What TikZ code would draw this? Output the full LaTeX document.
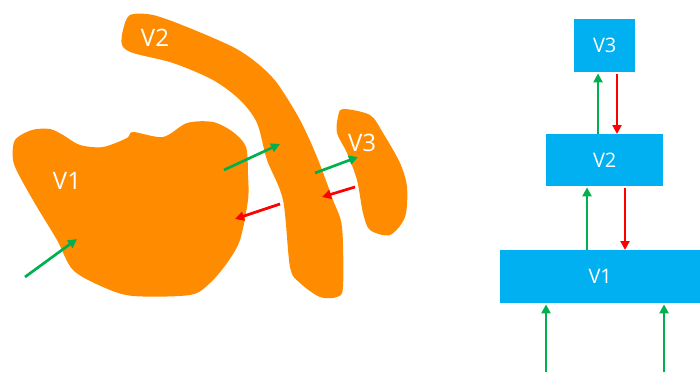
\documentclass[tikz,border=0pt]{standalone}
\usepackage{fontspec}
\setmainfont{Open Sans}
\usetikzlibrary{arrows.meta}
\definecolor{blob}{HTML}{FF8C00}
\definecolor{boxblue}{HTML}{00B0F0}
\definecolor{grn}{HTML}{00B050}
\definecolor{rd}{HTML}{FF0000}
\begin{document}
\begin{tikzpicture}[x=1pt,y=-1pt,
  region/.style={fill=blob,draw=none},
  blabel/.style={text=white,font=\fontsize{24}{24}\selectfont,inner sep=0pt},
  layer/.style={fill=boxblue,draw=none,text=white,font=\fontsize{20}{20}\selectfont,inner sep=0pt,anchor=north west},
  up/.style={draw=grn,line width=2.7pt,-{Triangle[length=9pt,width=9pt]}},
  down/.style={draw=rd,line width=2.7pt,-{Triangle[length=9pt,width=9pt]}}]
\useasboundingbox (0,0) rectangle (700,372);
% left blobs
\fill[region] plot[smooth cycle,tension=0.5] coordinates {
 (15,140) (32,130) (50,129) (63,135) (80,145) (103,147) (127,138) (133,132)
 (163,137) (187,123) (213,122) (233,132) (246,147) (248,175) (248,200) (240,240)
 (227,263) (210,283) (190,295) (133,296) (103,287) (73,270) (57,240)
 (37,207) (20,177) (13,160)};
\fill[region] plot[smooth cycle,tension=0.5] coordinates {
 (130,15) (153,15) (187,27) (233,47) (257,63) (277,83) (300,120) (317,157)
 (333,200) (342,227) (343,287) (337,297) (320,297) (300,283) (290,267)
 (283,200) (267,160) (257,123) (240,100) (213,80) (173,63) (133,53)
 (122,45) (123,30)};
\fill[region] plot[smooth cycle,tension=0.5] coordinates {
 (343,109) (370,115) (383,133) (400,163) (407,187) (405,217) (390,235)
 (370,230) (363,213) (357,180) (347,153) (337,133) (338,117)};
\node[blabel] (l1) at (67,181) {V1};
\node[blabel] (l2) at (155,38) {V2};
\node[blabel] (l3) at (362,143) {V3};
\coordinate (a1s) at (25,277); \coordinate (a1e) at (77,239);
\coordinate (a2s) at (224,170); \coordinate (a2e) at (280,144);
\coordinate (a3s) at (315,173); \coordinate (a3e) at (358,157);
\coordinate (r1s) at (355,187); \coordinate (r1e) at (322,197);
\coordinate (r2s) at (280,204); \coordinate (r2e) at (235,219);
\draw[up] (a1s) -- (a1e);
\draw[up] (a2s) -- (a2e);
\draw[up] (a3s) -- (a3e);
\draw[down] (r1s) -- (r1e);
\draw[down] (r2s) -- (r2e);
% right layered boxes
\node[layer,minimum width=61pt,minimum height=53pt] (v3) at (574,19) {V3};
\node[layer,minimum width=117pt,minimum height=52pt] (v2) at (546,134) {V2};
\node[layer,minimum width=200pt,minimum height=53pt] (v1) at (500,250) {V1};
\draw[up] (v2.north -| 598,0) -- ([yshift=-1pt]v3.south -| 598,0);
\draw[down] ([yshift=-2pt]v3.south -| 617,0) -- (v2.north -| 617,0);
\draw[up] (v1.north -| 587,0) -- ([yshift=-1pt]v2.south -| 587,0);
\draw[down] ([yshift=-2pt]v2.south -| 625,0) -- (v1.north -| 625,0);
\coordinate (in1) at (546,372); \coordinate (in2) at (664,372);
\draw[up] (in1) -- ([yshift=-1pt]v1.south -| in1);
\draw[up] (in2) -- ([yshift=-1pt]v1.south -| in2);
\end{tikzpicture}
\end{document}
